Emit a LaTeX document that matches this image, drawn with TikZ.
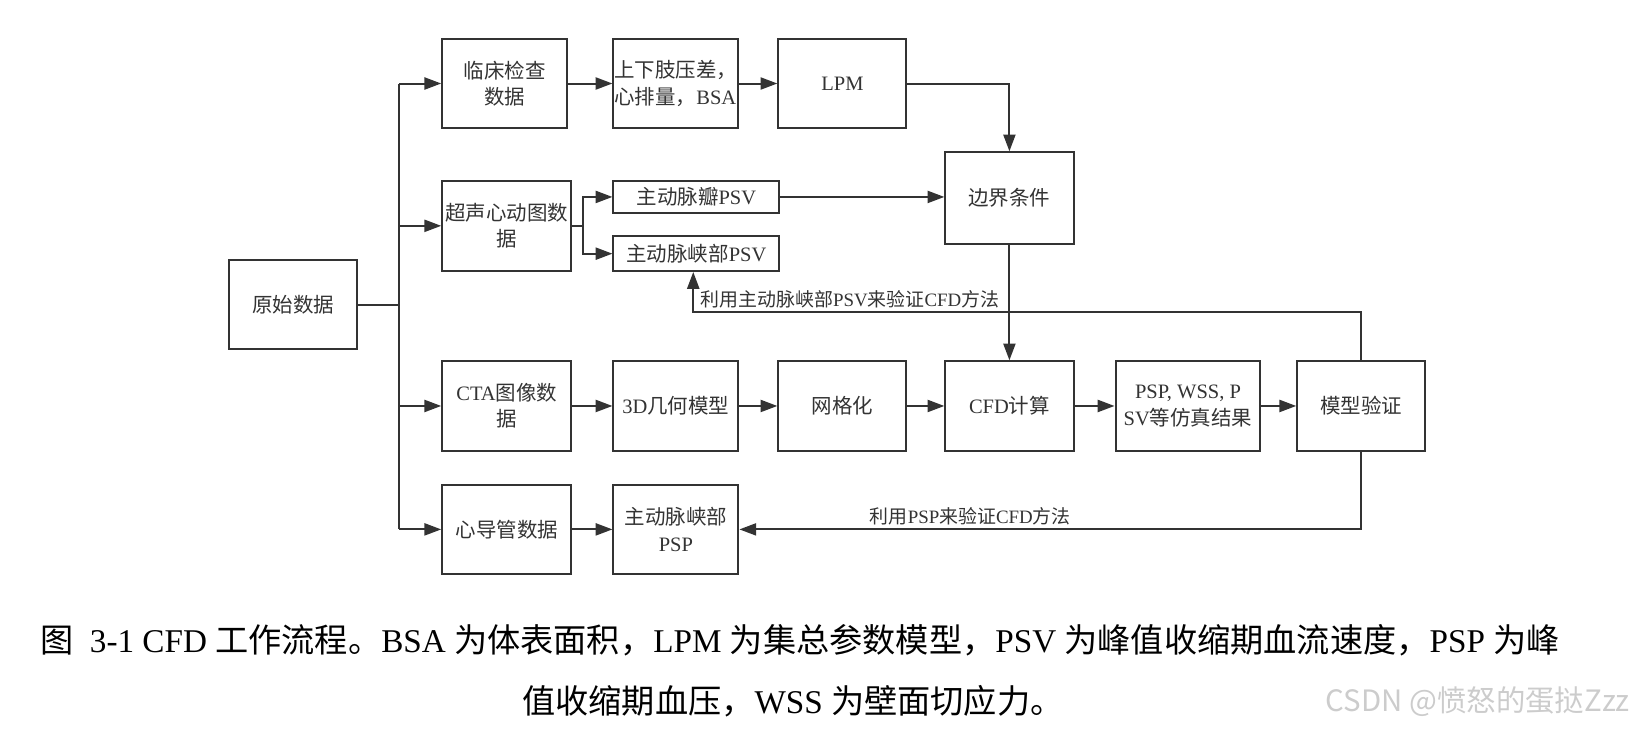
\documentclass[tikz,border=0pt]{standalone}
\usepackage{fontspec}
\setmainfont{Liberation Serif}
\newfontfamily\cjk{Noto Sans CJK SC}
\usetikzlibrary{arrows.meta,calc}
\definecolor{ln}{HTML}{333333}
\tikzset{
  box/.style={draw=ln, line width=1.9pt, inner sep=0pt, align=center,
    font=\fontsize{19.5}{25}\selectfont, text=black!80},
  conn/.style={draw=ln, line width=1.9pt},
  arr/.style={conn, -{Triangle[length=16pt,width=11.5pt]}},
  lab/.style={inner sep=0pt, font=\fontsize{18}{21}\selectfont, text=black!80},
  captext/.style={inner sep=0pt, font=\fontsize{31.6}{36}\selectfont, text=black}
}
\begin{document}
\begin{tikzpicture}[x=1pt,y=-1pt]
\useasboundingbox (0,0) rectangle (1568,695);
% nodes
\node[box, minimum width=122pt, minimum height=84pt] (raw) at (279,290) {{\cjk 原始数据}};
\node[box, minimum width=119pt, minimum height=85pt] (clin) at (480.5,79.5) {{\cjk 临床检查}\\{\cjk 数据}};
\node[box, minimum width=119pt, minimum height=85pt, align=left] (diff) at (643.5,79.5) {{\cjk 上下肢压差，}\\{\cjk 心排量，}BSA};
\node[box, minimum width=122pt, minimum height=85pt] (lpm) at (802,79.5) {LPM};
\node[box, minimum width=122pt, minimum height=87pt] (bc) at (961,188.5) {{\cjk 边界条件}};
\node[box, minimum width=123pt, minimum height=86pt] (echo) at (482.5,215) {{\cjk 超声心动图数}\\{\cjk 据}};
\node[box, minimum width=158pt, minimum height=31pt] (avpsv) at (663,187.5) {{\cjk 主动脉瓣}PSV};
\node[box, minimum width=158pt, minimum height=33pt] (isthpsv) at (663,241.5) {{\cjk 主动脉峡部}PSV};
\node[box, minimum width=123pt, minimum height=85pt] (cta) at (482.5,386.5) {CTA{\cjk 图像数}\\{\cjk 据}};
\node[box, minimum width=119pt, minimum height=85pt] (geo) at (643.5,386.5) {3D{\cjk 几何模型}};
\node[box, minimum width=122pt, minimum height=85pt] (mesh) at (802,386.5) {{\cjk 网格化}};
\node[box, minimum width=122pt, minimum height=85pt] (cfd) at (961,386.5) {CFD{\cjk 计算}};
\node[box, minimum width=138pt, minimum height=85pt] (res) at (1131,386.5) {PSP, WSS, P\\SV{\cjk 等仿真结果}};
\node[box, minimum width=122pt, minimum height=85pt] (val) at (1296,386.5) {{\cjk 模型验证}};
\node[box, minimum width=123pt, minimum height=84pt] (cath) at (482.5,504) {{\cjk 心导管数据}};
\node[box, minimum width=119pt, minimum height=84pt] (isthpsp) at (643.5,504) {{\cjk 主动脉峡部}\\PSP};
% helper coordinates
\coordinate (trunk) at (380,0);
\coordinate (split) at (555,0);
\coordinate (fb) at (660,297);
% trunk
\draw[conn] (raw.east) -- (raw.east -| trunk);
\draw[conn] (clin.west -| trunk) -- (cath.west -| trunk);
\draw[arr] (clin.west -| trunk) -- (clin.west);
\draw[arr] (echo.west -| trunk) -- (echo.west);
\draw[arr] (cta.west -| trunk) -- (cta.west);
\draw[arr] (cath.west -| trunk) -- (cath.west);
% row 1
\draw[arr] (clin) -- (diff);
\draw[arr] (diff) -- (lpm);
\draw[arr] (lpm.east) -| (bc.north);
% row 2
\draw[conn] (echo.east) -- (echo.east -| split);
\draw[arr] (echo.east -| split) |- (avpsv.west);
\draw[arr] (echo.east -| split) |- (isthpsv.west);
\draw[arr] (avpsv.east) -- (avpsv.east -| bc.west);
\draw[arr] (bc.south) -- (cfd.north);
% row 3
\draw[arr] (cta) -- (geo);
\draw[arr] (geo) -- (mesh);
\draw[arr] (mesh) -- (cfd);
\draw[arr] (cfd) -- (res);
\draw[arr] (res) -- (val);
% row 4
\draw[arr] (cath) -- (isthpsp);
% feedback
\draw[arr] (val.north) |- (fb) -- (fb |- isthpsv.south);
\draw[arr] (val.south) |- (isthpsp.east);
\node[lab, anchor=base west] (l1) at (667,292) {{\cjk 利用主动脉峡部}PSV{\cjk 来验证}CFD{\cjk 方法}};
\node[lab, anchor=base west] (l2) at (828,498) {{\cjk 利用}PSP{\cjk 来验证}CFD{\cjk 方法}};
% caption
\node[captext, anchor=west] (c1) at (38,610) {{\cjk 图}\ \ 3-1 CFD {\cjk 工作流程。}BSA {\cjk 为体表面积，}LPM {\cjk 为集总参数模型，}PSV {\cjk 为峰值收缩期血流速度，}PSP {\cjk 为峰}};
\node[captext, anchor=west] (c2) at (497,668) {{\cjk 值收缩期血压，}WSS {\cjk 为壁面切应力。}};
\node[inner sep=0pt, anchor=west, text=black!20, font=\cjk\fontsize{28}{32}\selectfont] (wm) at (1262,668) {CSDN @愤怒的蛋挞Zzz};
\end{tikzpicture}
\end{document}
